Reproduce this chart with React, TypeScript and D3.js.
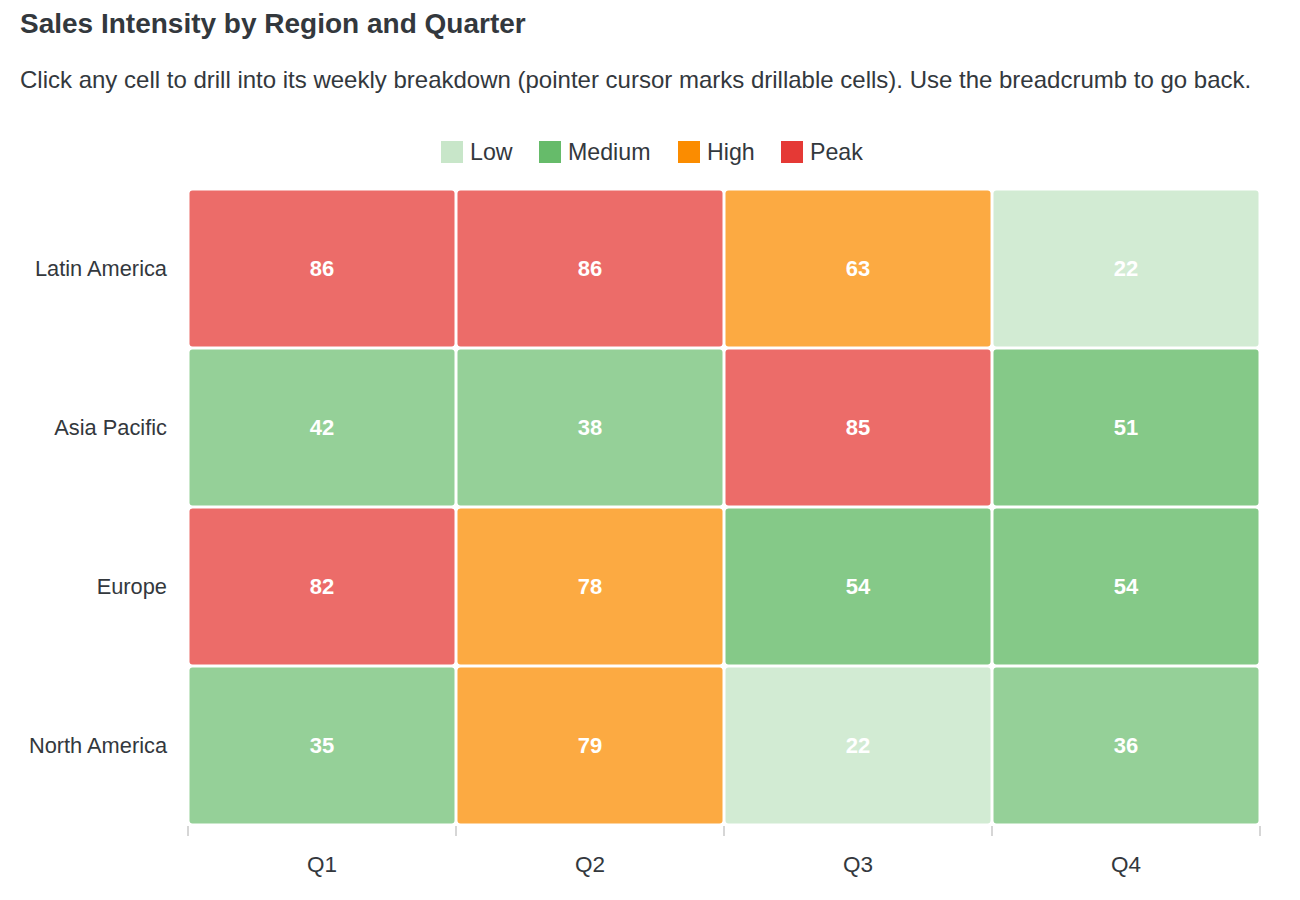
import React from "react";
import * as d3 from "d3";

const regions = ["Latin America", "Asia Pacific", "Europe", "North America"];
const quarters = ["Q1", "Q2", "Q3", "Q4"];
// rows follow `regions`, columns follow `quarters`
const salesIndex = [
  [86, 86, 63, 22],
  [42, 38, 85, 51],
  [82, 78, 54, 54],
  [35, 79, 22, 36],
];
const pieceLabels = ["Low", "Medium", "High", "Peak"];
const pieceBreaks = [30, 60, 80];
const pieceColors = ["#c8e6c9", "#66bb6a", "#fb8c00", "#e53935"];

const W = 1300;
const H = 900;
const FONT = "'Liberation Sans', Arial, Helvetica, sans-serif";
const TEXT = "#33383d";

export default function App() {
  const margin = { left: 188, right: 1260, top: 189, bottom: 825 };
  const x = d3.scaleBand<string>().domain(quarters).range([margin.left, margin.right]);
  const y = d3.scaleBand<string>().domain(regions).range([margin.top, margin.bottom]);
  const color = d3.scaleThreshold<number, string>().domain(pieceBreaks).range(pieceColors);
  const pieceIndex = d3.scaleThreshold<number, number>().domain(pieceBreaks).range([0, 1, 2, 3]);
  // lighter fill for the lower half of the medium band
  const opacityFor = (v: number) => {
    const p = pieceIndex(v);
    if (p === 1) return v < 48 ? 0.69 : 0.8;
    if (p === 0) return 0.82;
    return 0.74;
  };

  const cells = regions.flatMap((r, i) =>
    quarters.map((q, j) => ({ r, q, v: salesIndex[i][j] }))
  );

  const legendX = [441, 539, 678, 781];
  const ticks = [...quarters.map((q) => x(q)!), margin.right];

  return (
    <svg
      width={W}
      height={H}
      style={{ position: "absolute", left: 0, top: 0, background: "#fff" }}
      fontFamily={FONT}
    >
      <text x={20} y={33} fontSize={28} fontWeight="bold" fill={TEXT}>
        Sales Intensity by Region and Quarter
      </text>
      <text x={20} y={88} fontSize={24} fill={TEXT}>
        Click any cell to drill into its weekly breakdown (pointer cursor marks drillable cells). Use the breadcrumb to go back.
      </text>

      {pieceLabels.map((lab, i) => (
        <g key={lab}>
          <rect x={legendX[i]} y={141} width={22} height={22} fill={pieceColors[i]} />
          <text x={legendX[i] + 29} y={160} fontSize={23.2} fill={TEXT}>
            {lab}
          </text>
        </g>
      ))}

      {cells.map((c) => (
        <g key={c.r + c.q} style={{ cursor: "pointer" }}>
          <rect
            x={x(c.q)! + 1.5}
            y={y(c.r)! + 1.5}
            width={x.bandwidth() - 3}
            height={y.bandwidth() - 3}
            rx={3}
            fill={color(c.v)}
            fillOpacity={opacityFor(c.v)}
          />
          <text
            x={x(c.q)! + x.bandwidth() / 2}
            y={y(c.r)! + y.bandwidth() / 2}
            dy="0.35em"
            textAnchor="middle"
            fontSize={22}
            fontWeight="bold"
            fill="#fff"
          >
            {c.v}
          </text>
        </g>
      ))}

      {regions.map((r) => (
        <text
          key={r}
          x={167}
          y={y(r)! + y.bandwidth() / 2}
          dy="0.35em"
          textAnchor="end"
          fontSize={21.8}
          fill={TEXT}
        >
          {r}
        </text>
      ))}

      {ticks.map((t, i) => (
        <line key={i} x1={t} x2={t} y1={826} y2={836} stroke="#d6d6d6" strokeWidth={2} />
      ))}
      {quarters.map((q) => (
        <text
          key={q}
          x={x(q)! + x.bandwidth() / 2}
          y={872}
          textAnchor="middle"
          fontSize={22.5}
          fill={TEXT}
        >
          {q}
        </text>
      ))}
    </svg>
  );
}
